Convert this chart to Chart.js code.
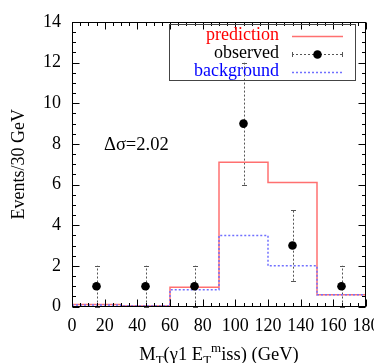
<!DOCTYPE html>
<html><head><meta charset="utf-8">
<script src="https://cdn.jsdelivr.net/npm/chart.js@4.4.1/dist/chart.umd.min.js"></script>
<style>html,body{margin:0;padding:0;background:#fff;}canvas{display:block;}</style>
</head><body>
<canvas id="c" width="374" height="363"></canvas>
<script>
// ---- data ----
const binEdges = [0, 30, 60, 90, 120, 150, 180];
const prediction = [0.10, 0.03, 0.95, 7.10, 6.10, 0.58];
const background = [0.07, 0.02, 0.82, 3.50, 2.00, 0.58];
const obsX = [15, 45, 75, 105, 135, 165];
const observed = [1, 1, 1, 9, 3, 1];
const obsErrLow = [1, 1, 1, 3, 1.73, 1];
const obsErrHigh = [1, 1, 1, 3, 1.73, 1];
const xTicks = [0, 20, 40, 60, 80, 100, 120, 140, 160, 180];
const yTicks = [0, 2, 4, 6, 8, 10, 12, 14];
const legendLabels = ['prediction', 'observed', 'background'];
const annotationText = 'Δσ=2.02';
const yTitle = 'Events/30 GeV';

const FONT = "'Liberation Serif', 'DejaVu Serif', serif";
const xMinorStep = 5, yMinorStep = 0.5;

function stepPoints(vals) {
  return binEdges.map((e, i) => ({ x: e, y: vals[Math.min(i, vals.length - 1)] }));
}

const overlay = {
  id: 'overlay',
  beforeDatasetsDraw(chart) {
    const { ctx, scales: { x, y } } = chart;
    ctx.save();
    ctx.strokeStyle = '#555';
    ctx.lineWidth = 1;
    obsX.forEach((xv, i) => {
      const px = Math.round(x.getPixelForValue(xv)) + 0.5;
      const y1 = y.getPixelForValue(observed[i] - obsErrLow[i]);
      const y2 = y.getPixelForValue(observed[i] + obsErrHigh[i]);
      ctx.setLineDash([2, 2]);
      ctx.beginPath(); ctx.moveTo(px, y1); ctx.lineTo(px, y2); ctx.stroke();
      ctx.setLineDash([]);
      [y1, y2].forEach(yy => {
        const yr = Math.round(yy) + 0.5;
        ctx.beginPath(); ctx.moveTo(px - 2.5, yr); ctx.lineTo(px + 2.5, yr); ctx.stroke();
      });
    });
    ctx.restore();
  },
  afterDraw(chart) {
    const { ctx, chartArea: a, scales: { x, y } } = chart;
    ctx.save();
    // frame
    ctx.strokeStyle = '#000'; ctx.lineWidth = 1; ctx.setLineDash([]);
    const L = Math.round(a.left) + 0.5, R = Math.round(a.right) - 0.5;
    const T = Math.round(a.top) + 0.5, B = Math.round(a.bottom) - 0.5;
    ctx.strokeRect(L, T, R - L, B - T);
    // ticks
    ctx.beginPath();
    for (let v = x.min; v <= x.max + 1e-9; v += xMinorStep) {
      const major = xTicks.includes(Math.round(v));
      const len = major ? 7 : 3.5;
      const px = Math.round(x.getPixelForValue(v)) + 0.5;
      ctx.moveTo(px, B); ctx.lineTo(px, B - len);
      ctx.moveTo(px, T); ctx.lineTo(px, T + len);
    }
    for (let v = y.min; v <= y.max + 1e-9; v += yMinorStep) {
      const major = yTicks.some(t => Math.abs(t - v) < 1e-6);
      const len = major ? 7 : 3.5;
      const py = Math.round(y.getPixelForValue(v)) + 0.5;
      ctx.moveTo(L, py); ctx.lineTo(L + len, py);
      ctx.moveTo(R, py); ctx.lineTo(R - len, py);
    }
    ctx.stroke();

    // legend
    const boxL = 169.5, boxT = 24.5, boxW = 186, boxH = 56;
    ctx.strokeStyle = '#444';
    ctx.strokeRect(boxL, boxT, boxW, boxH);
    ctx.font = '18px ' + FONT;
    ctx.textAlign = 'right'; ctx.textBaseline = 'middle';
    const rows = [35.7, 53.5, 71.5];
    const colors = ['#ff0000', '#000000', '#0000ff'];
    legendLabels.forEach((t, i) => { ctx.fillStyle = colors[i]; ctx.fillText(t, 279, rows[i]); });
    const s0 = 292, s1 = 343;
    // prediction sample
    ctx.strokeStyle = '#ff7070'; ctx.lineWidth = 1.5;
    ctx.beginPath(); ctx.moveTo(s0, Math.round(rows[0]) + 0.5); ctx.lineTo(s1, Math.round(rows[0]) + 0.5); ctx.stroke();
    // observed sample
    ctx.strokeStyle = '#555'; ctx.lineWidth = 1; ctx.setLineDash([2, 2]);
    const oy = Math.round(rows[1]) + 0.5;
    ctx.beginPath(); ctx.moveTo(s0, oy); ctx.lineTo(s1, oy); ctx.stroke();
    ctx.setLineDash([]);
    ctx.beginPath(); ctx.moveTo(s0 + 0.5, oy - 2.5); ctx.lineTo(s0 + 0.5, oy + 2.5);
    ctx.moveTo(s1 - 0.5, oy - 2.5); ctx.lineTo(s1 - 0.5, oy + 2.5); ctx.stroke();
    ctx.fillStyle = '#000';
    ctx.beginPath(); ctx.arc((s0 + s1) / 2, oy, 4.3, 0, Math.PI * 2); ctx.fill();
    // background sample
    ctx.strokeStyle = '#7070ff'; ctx.lineWidth = 1.5; ctx.setLineDash([2, 2]);
    ctx.beginPath(); ctx.moveTo(s0, Math.round(rows[2]) + 0.5); ctx.lineTo(s1, Math.round(rows[2]) + 0.5); ctx.stroke();
    ctx.setLineDash([]);

    // annotation
    ctx.fillStyle = '#000';
    ctx.textAlign = 'left'; ctx.textBaseline = 'middle';
    ctx.font = '18.5px ' + FONT;
    ctx.fillText(annotationText, 104, 145.5);

    // x title with sub/superscripts
    const big = 18.5, small = 13;
    const segs = [
      { t: 'M', s: big, dy: 0 },
      { t: 'T', s: small, dy: 4 },
      { t: '(γ1 E', s: big, dy: 0 },
      { t: 'T', s: small, dy: 4 },
      { t: 'm', s: small, dy: -8 },
      { t: 'iss) (GeV)', s: big, dy: 0 }
    ];
    let total = 0;
    segs.forEach(sg => { ctx.font = sg.s + 'px ' + FONT; sg.w = ctx.measureText(sg.t).width; total += sg.w; });
    let cx = (a.left + a.right) / 2 - total / 2;
    ctx.textBaseline = 'alphabetic';
    segs.forEach(sg => {
      ctx.font = sg.s + 'px ' + FONT;
      ctx.fillText(sg.t, cx, 360 + sg.dy);
      cx += sg.w;
    });
    ctx.restore();
  }
};

new Chart(document.getElementById('c'), {
  type: 'scatter',
  data: {
    datasets: [
      { label: legendLabels[0], data: stepPoints(prediction), showLine: true, stepped: true,
        borderColor: '#ff7070', borderWidth: 1.5, pointRadius: 0, fill: false, order: 3 },
      { label: legendLabels[2], data: stepPoints(background), showLine: true, stepped: true,
        borderColor: '#7070ff', borderWidth: 1.5, borderDash: [2, 2], pointRadius: 0, fill: false, order: 2 },
      { label: legendLabels[1], data: obsX.map((v, i) => ({ x: v, y: observed[i] })), showLine: false,
        pointRadius: 4.3, pointBackgroundColor: '#000', pointBorderColor: '#000', pointBorderWidth: 0, order: 1 }
    ]
  },
  options: {
    responsive: false,
    animation: false,
    devicePixelRatio: 1,
    layout: { padding: { top: 22, right: 8, left: 0, bottom: 0 } },
    plugins: { legend: { display: false }, tooltip: { enabled: false } },
    scales: {
      x: {
        type: 'linear', min: 0, max: 180,
        afterBuildTicks: s => { s.ticks = xTicks.map(v => ({ value: v })); },
        grid: { display: false, drawTicks: false },
        border: { display: false },
        ticks: { font: { family: FONT, size: 18 }, color: '#000', padding: 9, maxRotation: 0, autoSkip: false },
        afterFit: s => { s.height = 56.5; s.paddingLeft = 0; s.paddingRight = 0; }
      },
      y: {
        type: 'linear', min: 0, max: 14,
        afterBuildTicks: s => { s.ticks = yTicks.map(v => ({ value: v })); },
        grid: { display: false, drawTicks: false },
        border: { display: false },
        ticks: { font: { family: FONT, size: 18 }, color: '#000', padding: 11, autoSkip: false },
        title: { display: true, text: yTitle, color: '#000', font: { family: FONT, size: 18 }, padding: { top: 8, bottom: 0 } },
        afterFit: s => { s.width = 72; s.paddingTop = 0; s.paddingBottom = 0; }
      }
    }
  },
  plugins: [overlay]
});
</script>
</body></html>
